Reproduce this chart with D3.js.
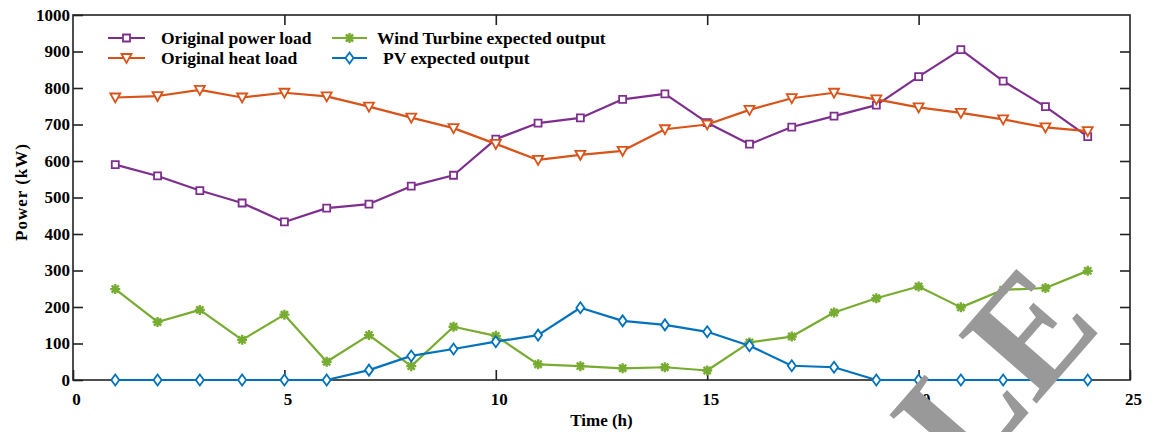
<!DOCTYPE html>
<html>
<head>
<meta charset="utf-8">
<script src="https://cdn.jsdelivr.net/npm/d3@7"></script>
<style>
  html, body { margin: 0; padding: 0; background: #fff; }
  svg { display: block; }
  text { font-family: "Liberation Serif", "Times New Roman", serif; font-weight: bold; fill: #000; }
</style>
</head>
<body>
<svg id="chart" width="1157" height="432"></svg>
<script>
// Hourly data (h = 1..24), kW
const hours = d3.range(1, 25);
const powerLoad = [590, 559, 519, 485, 433, 471, 482, 531, 561, 660, 704, 718, 769, 784, 705, 646, 693, 723, 753, 831, 905, 819, 749, 667];
const heatLoad  = [774, 778, 795, 774, 787, 777, 749, 719, 690, 647, 603, 617, 628, 687, 700, 740, 772, 787, 769, 747, 732, 714, 692, 682];
const windOut   = [249, 159, 192, 110, 179, 50, 123, 38, 146, 121, 43, 38, 32, 35, 26, 103, 119, 185, 224, 256, 199, 247, 252, 299];
const pvOut     = [0, 0, 0, 0, 0, 0, 27, 66, 85, 105, 123, 198, 162, 151, 132, 94, 39, 35, 0, 0, 0, 0, 0, 0];

const xTicks = [0, 5, 10, 15, 20, 25];
const yTicks = [0, 100, 200, 300, 400, 500, 600, 700, 800, 900, 1000];

const seriesNames = ["Original power load", "Original heat load", "Wind Turbine expected output", "PV expected output"];
const seriesColors = ["#7E2F8E", "#D95319", "#77AC30", "#0072BD"];
const seriesMarkers = ["square", "triangle", "asterisk", "diamond"];
const seriesValues = [powerLoad, heatLoad, windOut, pvOut];

const svg = d3.select("#chart");
const plotLeft = 73, plotRight = 1130, plotTop = 15, plotBottom = 380;

const x = d3.scaleLinear().domain([0, 25]).range([plotLeft, plotRight]);
const y = d3.scaleLinear().domain([0, 1000]).range([plotBottom, plotTop]);

// Marker glyphs, centred at the origin
function markerPath(type) {
  switch (type) {
    case "square": return "M-3.5,-3.5H3.5V3.5H-3.5Z";
    case "triangle": return "M-5,-4L5,-4L0,5Z";
    case "diamond": return "M0,-5.5L4,0L0,5.5L-4,0Z";
    case "asterisk": return "M0,-5V5M-5,0H5M-3.6,-3.6L3.6,3.6M-3.6,3.6L3.6,-3.6";
  }
}

function drawMarker(g, type, color, cx, cy) {
  g.append("path")
    .attr("d", markerPath(type))
    .attr("transform", `translate(${cx},${cy})`)
    .attr("fill", type === "asterisk" ? color : "#fff")
    .attr("stroke", color)
    .attr("stroke-width", type === "asterisk" ? 2.4 : 1.8);
}

// Axes: bottom/left with labels, top/right mirrored ticks only, all inward
const tickLen = 10;
const axisStroke = "#222";
const fmt = d3.format("d");

const xAxisG = svg.append("g")
  .attr("transform", `translate(0,${plotBottom})`)
  .call(d3.axisBottom(x).tickValues(xTicks).tickFormat(fmt).tickSize(-tickLen))
  .call(g => g.select(".domain").remove());
xAxisG.selectAll(".tick text").attr("x", 3).attr("y", 13);

svg.append("g")
  .attr("transform", `translate(0,${plotTop})`)
  .call(d3.axisTop(x).tickValues(xTicks.slice(1, -1)).tickSize(-tickLen).tickFormat(""))
  .call(g => g.select(".domain").remove());

const yAxisG = svg.append("g")
  .attr("transform", `translate(${plotLeft},0)`)
  .call(d3.axisLeft(y).tickValues(yTicks).tickFormat(fmt).tickSize(-tickLen))
  .call(g => g.select(".domain").remove());
yAxisG.selectAll(".tick text").attr("x", -3).attr("text-anchor", "end");

svg.append("g")
  .attr("transform", `translate(${plotRight},0)`)
  .call(d3.axisRight(y).tickValues(yTicks.slice(1, -1)).tickSize(-tickLen).tickFormat(""))
  .call(g => g.select(".domain").remove());

svg.selectAll(".tick line").attr("stroke", axisStroke).attr("stroke-width", 1.6);
svg.selectAll(".tick text")
  .attr("font-family", "Liberation Serif, serif")
  .attr("font-weight", "bold")
  .attr("font-size", 17)
  .attr("fill", "#000");

// Box frame
svg.append("rect")
  .attr("x", plotLeft).attr("y", plotTop)
  .attr("width", plotRight - plotLeft).attr("height", plotBottom - plotTop)
  .attr("fill", "none").attr("stroke", axisStroke).attr("stroke-width", 1.6);

// Axis titles
svg.append("text")
  .attr("x", x(12.5)).attr("y", 426)
  .attr("text-anchor", "middle")
  .attr("font-size", 17)
  .text("Time (h)");

svg.append("text")
  .attr("transform", `translate(27,192) rotate(-90)`)
  .attr("text-anchor", "middle")
  .attr("font-size", 17)
  .attr("letter-spacing", 1)
  .text("Power (kW)");

// Series lines and markers
const line = d3.line().x((d, i) => x(hours[i])).y(d => y(d));

seriesValues.forEach((vals, s) => {
  const g = svg.append("g");
  g.append("path")
    .datum(vals)
    .attr("d", line)
    .attr("fill", "none")
    .attr("stroke", seriesColors[s])
    .attr("stroke-width", 2.2)
    .attr("stroke-linejoin", "round");
  vals.forEach((v, i) => drawMarker(g, seriesMarkers[s], seriesColors[s], x(hours[i]), y(v)));
});

// Legend: two columns
const legendItems = [
  { x0: 108, x1: 145, tx: 161, cy: 38 },
  { x0: 108, x1: 145, tx: 161, cy: 58 },
  { x0: 332, x1: 367, tx: 377, cy: 38 },
  { x0: 332, x1: 367, tx: 383, cy: 58 }
];
const legend = svg.append("g");
legendItems.forEach((it, s) => {
  legend.append("line")
    .attr("x1", it.x0).attr("x2", it.x1)
    .attr("y1", it.cy).attr("y2", it.cy)
    .attr("stroke", seriesColors[s]).attr("stroke-width", 2.2);
  drawMarker(legend, seriesMarkers[s], seriesColors[s], (it.x0 + it.x1) / 2, it.cy);
  legend.append("text")
    .attr("x", it.tx).attr("y", it.cy + 6)
    .attr("font-size", 17.5)
    .text(seriesNames[s]);
});

// Watermark
svg.append("text")
  .attr("transform", "translate(1104,326) rotate(-49)")
  .attr("text-anchor", "end")
  .attr("font-size", 158)
  .style("fill", "#999")
  .text("SAMPLE");
</script>
</body>
</html>
